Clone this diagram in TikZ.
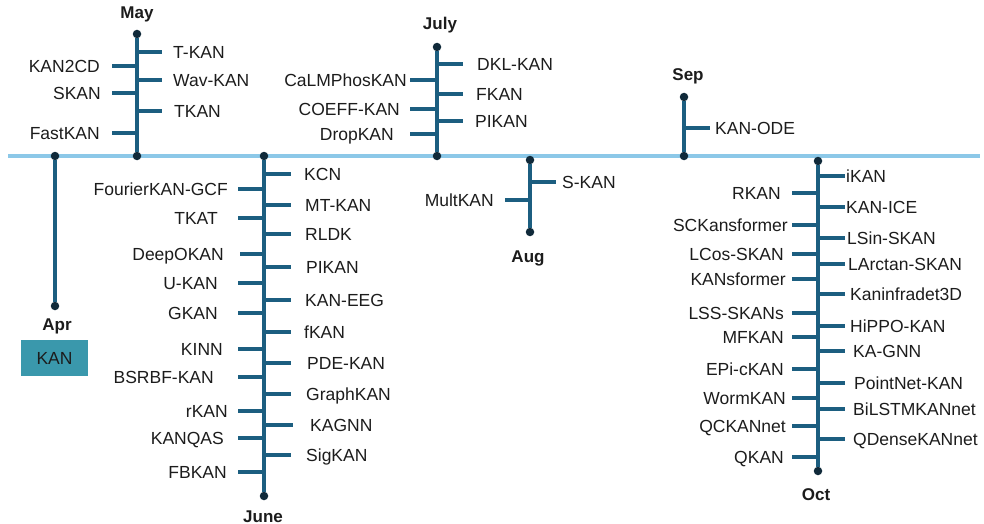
\documentclass[tikz,border=0pt]{standalone}
\usepackage{fontspec}
\setmainfont{Liberation Sans}
\usepackage{xcolor}
\usepackage{tikz}

\definecolor{tline}{RGB}{140,200,232}
\definecolor{stemc}{RGB}{28,94,128}
\definecolor{dotc}{RGB}{16,42,58}
\definecolor{kanbox}{RGB}{58,152,172}
\definecolor{txt}{RGB}{28,28,28}

\begin{document}
\begin{tikzpicture}[
  x=1pt, y=-1pt,
  every node/.style={font=\fontsize{17.5}{20}\selectfont, text=txt},
  month/.style={font=\fontsize{17}{20}\selectfont\bfseries, inner sep=0pt, text height=12.5pt, text depth=0pt},
  rlab/.style={anchor=west, inner xsep=#1, inner ysep=0pt, text height=12.5pt, text depth=0pt},
  rlab/.default=11pt,
  llab/.style={anchor=east, inner xsep=#1, inner ysep=0pt, text height=12.5pt, text depth=0pt},
  llab/.default=11pt,
  dot/.style={circle, fill=dotc, inner sep=0pt, minimum size=8.5pt},
  stem/.style={draw=stemc, line width=3.4pt},
  tick/.style={draw=stemc, line width=3.2pt},
  heavy/.style={draw=stemc, line width=4.6pt},
  timeline/.style={draw=tline, line width=4.2pt}
]
  \useasboundingbox (0,0) rectangle (984,524);

  \coordinate (tlstart) at (8,156);
  \coordinate (tlend) at (980,156);
  \draw[timeline] (tlstart) -- (tlend);

  \node[dot] (aprtop) at (55,156) {};
  \node[dot] (aprbot) at (55,306) {};
  \node[month] (apr) at (57,324) {Apr};
  \node[fill=kanbox, minimum width=67pt, minimum height=36pt] (kan) at (54.5,358) {KAN};
  \draw[stem] (aprtop) -- (aprbot);

  \node[month] (may) at (137,12) {May};
  \node[dot] (maytop) at (137,34) {};
  \node[dot] (maybot) at (137,156) {};
  \node[rlab] (tkanA) at (162,52) {T-KAN};
  \node[rlab] (wavkan) at (162,80) {Wav-KAN};
  \node[rlab=12pt] (tkanB) at (162,111) {TKAN};
  \node[llab=12pt] (kantwocd) at (112,66) {KAN2CD};
  \node[llab] (skanA) at (112,93) {SKAN};
  \node[llab=12pt] (fastkan) at (112,133) {FastKAN};
  \draw[stem] (maytop) -- (maybot);
  \draw[tick] (maytop |- tkanA.west) -- (tkanA.west);
  \draw[heavy] (maytop |- wavkan.west) -- (wavkan.west);
  \draw[tick] (maytop |- tkanB.west) -- (tkanB.west);
  \draw[tick] (kantwocd.east) -- (maytop |- kantwocd.east);
  \draw[tick] (skanA.east) -- (maytop |- skanA.east);
  \draw[tick] (fastkan.east) -- (maytop |- fastkan.east);

  \node[month] (june) at (263,516) {June};
  \node[dot] (junetop) at (264,156) {};
  \node[dot] (junebot) at (264,496) {};
  \node[rlab=13pt] (kcn) at (291,174) {KCN};
  \node[rlab=14pt] (mtkan) at (291,205) {MT-KAN};
  \node[rlab=14pt] (rldk) at (291,234) {RLDK};
  \node[rlab=15pt] (pikanA) at (291,267) {PIKAN};
  \node[rlab=14pt] (kaneeg) at (291,300) {KAN-EEG};
  \node[rlab=13pt] (fkanA) at (291,332) {fKAN};
  \node[rlab=16pt] (pdekan) at (291,363) {PDE-KAN};
  \node[rlab=15pt] (graphkan) at (291,394) {GraphKAN};
  \node[rlab=17pt] (kagnnA) at (293,425) {KAGNN};
  \node[rlab=15pt] (sigkan) at (291,455) {SigKAN};
  \node[llab=10pt] (fourier) at (238,189) {FourierKAN-GCF};
  \node[llab=20pt] (tkat) at (238,218) {TKAT};
  \node[llab=16pt] (deepokan) at (240,254) {DeepOKAN};
  \node[llab=20pt] (ukan) at (238,283) {U-KAN};
  \node[llab=20pt] (gkan) at (238,313) {GKAN};
  \node[llab=15pt] (kinn) at (238,349) {KINN};
  \node[llab=24pt] (bsrbf) at (238,377) {BSRBF-KAN};
  \node[llab=10pt] (rkanA) at (238,411) {rKAN};
  \node[llab=14pt] (kanqas) at (238,438) {KANQAS};
  \node[llab=11pt] (fbkan) at (238,472) {FBKAN};
  \draw[stem] (junetop) -- (junebot);
  \draw[tick] (junetop |- kcn.west) -- (kcn.west);
  \draw[tick] (junetop |- mtkan.west) -- (mtkan.west);
  \draw[tick] (junetop |- rldk.west) -- (rldk.west);
  \draw[tick] (junetop |- pikanA.west) -- (pikanA.west);
  \draw[tick] (junetop |- kaneeg.west) -- (kaneeg.west);
  \draw[tick] (junetop |- fkanA.west) -- (fkanA.west);
  \draw[tick] (junetop |- pdekan.west) -- (pdekan.west);
  \draw[tick] (junetop |- graphkan.west) -- (graphkan.west);
  \draw[heavy] (junetop |- kagnnA.west) -- (kagnnA.west);
  \draw[tick] (junetop |- sigkan.west) -- (sigkan.west);
  \draw[tick] (fourier.east) -- (junetop |- fourier.east);
  \draw[tick] (tkat.east) -- (junetop |- tkat.east);
  \draw[heavy] (deepokan.east) -- (junetop |- deepokan.east);
  \draw[tick] (ukan.east) -- (junetop |- ukan.east);
  \draw[tick] (gkan.east) -- (junetop |- gkan.east);
  \draw[tick] (kinn.east) -- (junetop |- kinn.east);
  \draw[tick] (bsrbf.east) -- (junetop |- bsrbf.east);
  \draw[tick] (rkanA.east) -- (junetop |- rkanA.east);
  \draw[tick] (kanqas.east) -- (junetop |- kanqas.east);
  \draw[tick] (fbkan.east) -- (junetop |- fbkan.east);

  \node[month] (july) at (440,23) {July};
  \node[dot] (julytop) at (437,47) {};
  \node[dot] (julybot) at (437,156) {};
  \node[rlab=14pt] (dklkan) at (463,64) {DKL-KAN};
  \node[rlab=13pt] (fkanB) at (463,94) {FKAN};
  \node[rlab=12pt] (pikanB) at (463,121) {PIKAN};
  \node[llab=3pt] (calmphos) at (410,80) {CaLMPhosKAN};
  \node[llab=10pt] (coeffkan) at (410,109) {COEFF-KAN};
  \node[llab=16pt] (dropkan) at (410,134) {DropKAN};
  \draw[stem] (julytop) -- (julybot);
  \draw[tick] (julytop |- dklkan.west) -- (dklkan.west);
  \draw[tick] (julytop |- fkanB.west) -- (fkanB.west);
  \draw[tick] (julytop |- pikanB.west) -- (pikanB.west);
  \draw[tick] (calmphos.east) -- (julytop |- calmphos.east);
  \draw[tick] (coeffkan.east) -- (julytop |- coeffkan.east);
  \draw[tick] (dropkan.east) -- (julytop |- dropkan.east);

  \node[month] (aug) at (528,256) {Aug};
  \node[dot] (augtop) at (530,160) {};
  \node[dot] (augbot) at (530,232) {};
  \node[rlab=6pt] (skanB) at (556,182) {S-KAN};
  \node[llab] (multkan) at (505,200) {MultKAN};
  \draw[stem] (augtop) -- (augbot);
  \draw[tick] (augtop |- skanB.west) -- (skanB.west);
  \draw[tick] (multkan.east) -- (augtop |- multkan.east);

  \node[month] (sep) at (688,74) {Sep};
  \node[dot] (septop) at (684,97) {};
  \node[dot] (sepbot) at (684,156) {};
  \node[rlab=5pt] (kanode) at (710,128) {KAN-ODE};
  \draw[stem] (septop) -- (sepbot);
  \draw[tick] (septop |- kanode.west) -- (kanode.west);

  \node[month] (oct) at (816,494) {Oct};
  \node[dot] (octtop) at (818,161) {};
  \node[dot] (octbot) at (818,471) {};
  \node[rlab=1pt] (ikan) at (845,176) {iKAN};
  \node[rlab=1pt] (kanice) at (845,207) {KAN-ICE};
  \node[rlab=2pt] (lsin) at (845,238) {LSin-SKAN};
  \node[rlab=3pt] (larctan) at (845,264) {LArctan-SKAN};
  \node[rlab=5pt] (kaninfra) at (845,294) {Kaninfradet3D};
  \node[rlab=5pt] (hippo) at (845,326) {HiPPO-KAN};
  \node[rlab=8pt] (kagnnB) at (845,351) {KA-GNN};
  \node[rlab=9pt] (pointnet) at (845,383) {PointNet-KAN};
  \node[rlab=8pt] (bilstm) at (845,409) {BiLSTMKANnet};
  \node[rlab=8pt] (qdense) at (845,439) {QDenseKANnet};
  \node[llab] (rkanB) at (792,193) {RKAN};
  \node[llab=4pt] (sckans) at (792,225) {SCKansformer};
  \node[llab=8pt] (lcos) at (792,254) {LCos-SKAN};
  \node[llab=6pt] (kansf) at (792,279) {KANsformer};
  \node[llab=8pt] (lss) at (792,313) {LSS-SKANs};
  \node[llab=8pt] (mfkan) at (792,337) {MFKAN};
  \node[llab=8pt] (epi) at (792,369) {EPi-cKAN};
  \node[llab=6pt] (worm) at (792,398) {WormKAN};
  \node[llab=6pt] (qckan) at (792,426) {QCKANnet};
  \node[llab=8pt] (qkan) at (792,457) {QKAN};
  \draw[stem] (octtop) -- (octbot);
  \draw[tick] (octtop |- ikan.west) -- (ikan.west);
  \draw[tick] (octtop |- kanice.west) -- (kanice.west);
  \draw[tick] (octtop |- lsin.west) -- (lsin.west);
  \draw[heavy] (octtop |- larctan.west) -- (larctan.west);
  \draw[tick] (octtop |- kaninfra.west) -- (kaninfra.west);
  \draw[tick] (octtop |- hippo.west) -- (hippo.west);
  \draw[tick] (octtop |- kagnnB.west) -- (kagnnB.west);
  \draw[tick] (octtop |- pointnet.west) -- (pointnet.west);
  \draw[tick] (octtop |- bilstm.west) -- (bilstm.west);
  \draw[tick] (octtop |- qdense.west) -- (qdense.west);
  \draw[tick] (rkanB.east) -- (octtop |- rkanB.east);
  \draw[heavy] (sckans.east) -- (octtop |- sckans.east);
  \draw[tick] (lcos.east) -- (octtop |- lcos.east);
  \draw[tick] (kansf.east) -- (octtop |- kansf.east);
  \draw[tick] (lss.east) -- (octtop |- lss.east);
  \draw[tick] (mfkan.east) -- (octtop |- mfkan.east);
  \draw[tick] (epi.east) -- (octtop |- epi.east);
  \draw[tick] (worm.east) -- (octtop |- worm.east);
  \draw[heavy] (qckan.east) -- (octtop |- qckan.east);
  \draw[tick] (qkan.east) -- (octtop |- qkan.east);
\end{tikzpicture}
\end{document}
